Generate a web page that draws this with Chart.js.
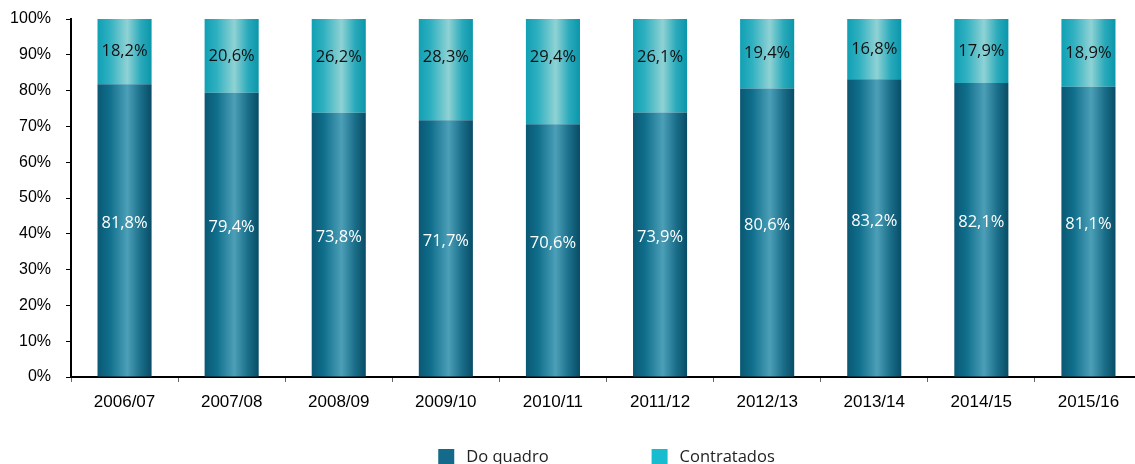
<!DOCTYPE html>
<html>
<head>
<meta charset="utf-8">
<script src="https://cdn.jsdelivr.net/npm/chart.js@4"></script>
<style>
  html, body { margin:0; padding:0; background:#fff; overflow:hidden; }
  canvas { display:block; }
</style>
</head>
<body>
<canvas id="chart" width="1142" height="464"></canvas>
<script>
// Data
const categories = ['2006/07','2007/08','2008/09','2009/10','2010/11','2011/12','2012/13','2013/14','2014/15','2015/16'];
const doQuadro    = [81.8, 79.4, 73.8, 71.7, 70.6, 73.9, 80.6, 83.2, 82.1, 81.1];
const contratados = [18.2, 20.6, 26.2, 28.3, 29.4, 26.1, 19.4, 16.8, 17.9, 18.9];
const seriesNames = ['Do quadro', 'Contratados'];
const yTicks      = [0, 10, 20, 30, 40, 50, 60, 70, 80, 90, 100];

const BAR_PCT = 0.505;
const LABEL_FONT = '16.5px "Open Sans", sans-serif';

// horizontal "cylinder" shading across each bar
function barFill(stops, flat) {
  return function(ctx) {
    const chart = ctx.chart;
    const xs = chart.scales && chart.scales.x;
    if (!xs || ctx.type !== 'data') return flat;
    const cx = xs.getPixelForValue(ctx.dataIndex);
    const half = xs.width / categories.length * BAR_PCT / 2;
    if (!Number.isFinite(cx) || !Number.isFinite(half) || half <= 0) return flat;
    const g = chart.ctx.createLinearGradient(cx - half, 0, cx + half, 0);
    stops.forEach(s => g.addColorStop(s[0], s[1]));
    return g;
  };
}

const lowerFill = barFill([
  [0, '#0a5874'], [0.22, '#0f6e8b'], [0.55, '#4c9fb7'], [0.8, '#1a6e89'], [1, '#084c66']
], '#136a8a');
const upperFill = barFill([
  [0, '#10a0b4'], [0.22, '#2fb0c0'], [0.55, '#8fd2d4'], [0.8, '#2aaabb'], [1, '#0a96ab']
], '#17bccf');

const legendColors = ['#136a8a', '#17bccf'];
const labelColors  = ['#ffffff', '#111111'];

const fmtPct = v => v.toFixed(1).replace('.', ',') + '%';

// value labels inside the segments
const valueLabels = {
  id: 'valueLabels',
  afterDatasetsDraw(chart) {
    const c = chart.ctx;
    c.save();
    c.font = LABEL_FONT;
    c.textAlign = 'center';
    c.textBaseline = 'middle';
    chart.data.datasets.forEach((ds, di) => {
      const meta = chart.getDatasetMeta(di);
      meta.data.forEach((el, i) => {
        let y = (el.y + el.base) / 2;
        if (di === 0) y -= 7;
        else y = Math.min(y, chart.chartArea.top + 38);
        c.fillStyle = labelColors[di];
        c.fillText(fmtPct(ds.data[i]), el.x, y);
      });
    });
    c.restore();
  }
};

// legend at the bottom, centred under the plot
const bottomLegend = {
  id: 'bottomLegend',
  afterDraw(chart) {
    const c = chart.ctx;
    const box = 16, gapText = 12, gapItem = 103;
    c.save();
    c.font = LABEL_FONT;
    c.textBaseline = 'middle';
    const widths = seriesNames.map(n => box + gapText + c.measureText(n).width);
    const total = widths.reduce((a, b) => a + b, 0) + gapItem * (widths.length - 1);
    const area = chart.chartArea;
    let x = (area.left + area.right) / 2 - total / 2;
    const y = 449;
    seriesNames.forEach((n, i) => {
      c.fillStyle = legendColors[i];
      c.fillRect(x, y, box, box);
      c.fillStyle = '#222';
      c.fillText(n, x + box + gapText, y + 8);
      x += widths[i] + gapItem;
    });
    c.restore();
  }
};

new Chart(document.getElementById('chart'), {
  type: 'bar',
  data: {
    labels: categories,
    datasets: [
      { label: seriesNames[0], data: doQuadro, backgroundColor: lowerFill, borderWidth: 0 },
      { label: seriesNames[1], data: contratados, backgroundColor: upperFill, borderWidth: 0 }
    ]
  },
  options: {
    responsive: false,
    animation: false,
    devicePixelRatio: 1,
    layout: { padding: { top: 19, right: 0, bottom: 0, left: 0 } },
    datasets: { bar: { barPercentage: BAR_PCT, categoryPercentage: 1 } },
    plugins: { legend: { display: false }, tooltip: { enabled: false } },
    scales: {
      x: {
        stacked: true,
        afterFit(s) { s.height = 87; s.paddingLeft = 0; s.paddingRight = 0; },
        border: { color: '#000', width: 2 },
        grid: { drawOnChartArea: false, offset: true, tickLength: 5, color: '#666' },
        ticks: { color: '#000', padding: 10, font: { family: '"Liberation Sans", Arial, sans-serif', size: 17 } }
      },
      y: {
        stacked: true,
        min: 0, max: 100,
        afterFit(s) { s.width = 71; s.paddingTop = 0; s.paddingBottom = 0; },
        afterBuildTicks(s) { s.ticks = yTicks.map(v => ({ value: v })); },
        border: { color: '#000', width: 2 },
        grid: { drawOnChartArea: false, tickLength: 5, color: '#000' },
        ticks: {
          color: '#000', padding: 15,
          font: { family: '"Liberation Sans", Arial, sans-serif', size: 16 },
          callback: v => v + '%'
        }
      }
    }
  },
  plugins: [valueLabels, bottomLegend]
});
</script>
</body>
</html>
